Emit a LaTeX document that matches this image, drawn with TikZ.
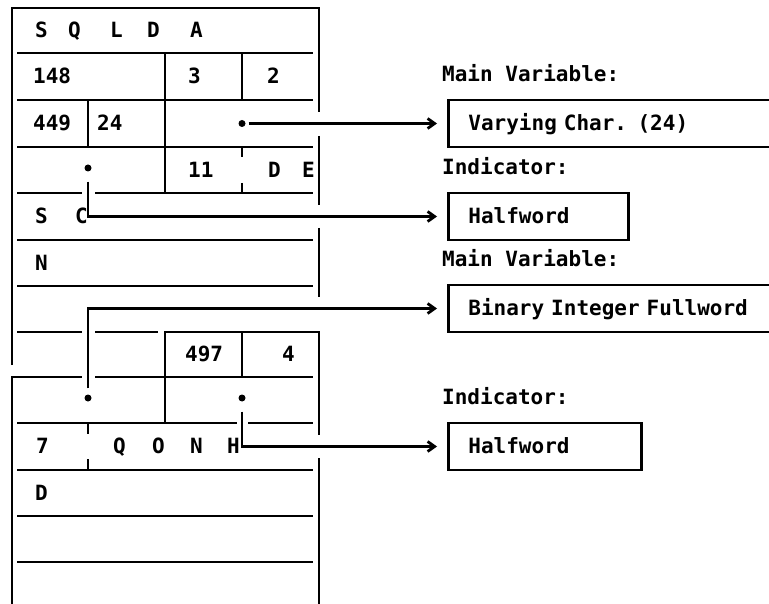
\documentclass[tikz,border=0pt]{standalone}
\usepackage{fontspec}
\setmonofont{DejaVu Sans Mono}
\usepackage{tikz}
\usetikzlibrary{arrows.meta,positioning}

\begin{document}
\begin{tikzpicture}[x=1pt, y=-1pt, >={Straight Barb[length=7pt,width=10pt]},
  rule/.style={line width=2.8pt},
  cell/.style={anchor=west, inner sep=0pt, text height=14.5pt, text depth=0pt, font=\fontsize{21}{24}\selectfont\ttfamily\bfseries},
  varbox/.style={draw, line width=2.8pt, anchor=west, minimum height=47pt, inner xsep=20pt, inner ysep=0pt, align=left, text height=14.5pt, text depth=0pt, font=\fontsize{21}{24}\selectfont\ttfamily\bfseries},
  lbl/.style={anchor=base west, inner sep=0pt, font=\fontsize{21}{24}\selectfont\ttfamily\bfseries},
  ptr/.style={circle, fill, inner sep=0pt, minimum size=7pt},
  link/.style={->, line width=2.8pt, shorten >=10pt}]
\useasboundingbox (0,0) rectangle (769,604);
\clip (0,0) rectangle (769,604);

\draw[rule] (12,365) -- (12,8) -- (319,8) -- (319,112);
\draw[rule] (319,136) -- (319,205) (319,228) -- (319,297);
\foreach \y in {53,100,147,240,286} \draw[rule] (17,\y) -- (313,\y);
\draw[rule] (17,193) -- (82,193) (95,193) -- (313,193);
\draw[rule] (17,332) -- (82,332) (95,332) -- (158,332);
\draw[rule] (165,53) -- (165,193) (242,53) -- (242,100) (88,100) -- (88,147);
\draw[rule] (242,147) -- (242,157) (242,183) -- (242,193);
\draw[rule] (165,423) -- (165,332) -- (319,332) -- (319,435);
\draw[rule] (242,332) -- (242,377);
\draw[rule] (12,610) -- (12,377) -- (82,377) (95,377) -- (313,377);
\draw[rule] (319,458) -- (319,610);
\draw[rule] (17,423) -- (237,423) (248,423) -- (313,423);
\foreach \y in {470,516,562} \draw[rule] (17,\y) -- (313,\y);
\draw[rule] (88,423) -- (88,434) (88,459) -- (88,470);

\foreach \t/\x in {S/35,Q/68,L/110,D/147,A/190} \node[cell] (eye\x) at (\x,30.5) {\t};
\node[cell] (len) at (33,76.5) {148};
\node[cell] (sqln) at (188,76.5) {3};
\node[cell] (sqld) at (267,76.5) {2};
\node[cell] (typ1) at (33,123.5) {449};
\node[cell] (len1) at (97,123.5) {24};
\node[cell] (nm1) at (188,170) {11};
\foreach \t/\x in {D/268,E/302} \node[cell] (nma\x) at (\x,170) {\t};
\foreach \t/\x in {S/35,C/75} \node[cell] (nmb\x) at (\x,216.5) {\t};
\node[cell] (nmc) at (35,263) {N};
\node[cell] (typ2) at (185,354.5) {497};
\node[cell] (len2) at (282,354.5) {4};
\node[cell] (nm2) at (36,446.5) {7};
\foreach \t/\x in {Q/113,O/152,N/190,H/227} \node[cell] (nmd\x) at (\x,446.5) {\t};
\node[cell] (nme) at (35,493) {D};

\node[ptr] (p1) at (242,123.5) {};
\node[ptr] (p2) at (88,168) {};
\node[ptr] (p3) at (88,398) {};
\node[ptr] (p4) at (242,398) {};

\node[varbox, text width=400pt] (mv1) at (447,123.5) {Varying Char. (24)};
\node[varbox, text width=140pt] (ind1) at (447,216.5) {Halfword};
\node[varbox, text width=400pt] (mv2) at (447,308.5) {Binary Integer Fullword};
\node[varbox, text width=153pt] (ind2) at (447,446.5) {Halfword};

\node[above right=17pt and -5pt of mv1.north west, lbl] (lmv1) {Main Variable:};
\node[above right=17pt and -5pt of ind1.north west, lbl] (lind1) {Indicator:};
\node[above right=17pt and -5pt of mv2.north west, lbl] (lmv2) {Main Variable:};
\node[above right=17pt and -5pt of ind2.north west, lbl] (lind2) {Indicator:};

\draw[link, shorten <=3pt] (p1) -- (mv1);
\draw[link, shorten <=10pt] (p2) |- (ind1);
\draw[link, shorten <=6pt] (p3) |- (mv2);
\draw[link, shorten <=10pt] (p4) |- (ind2);
\end{tikzpicture}
\end{document}
